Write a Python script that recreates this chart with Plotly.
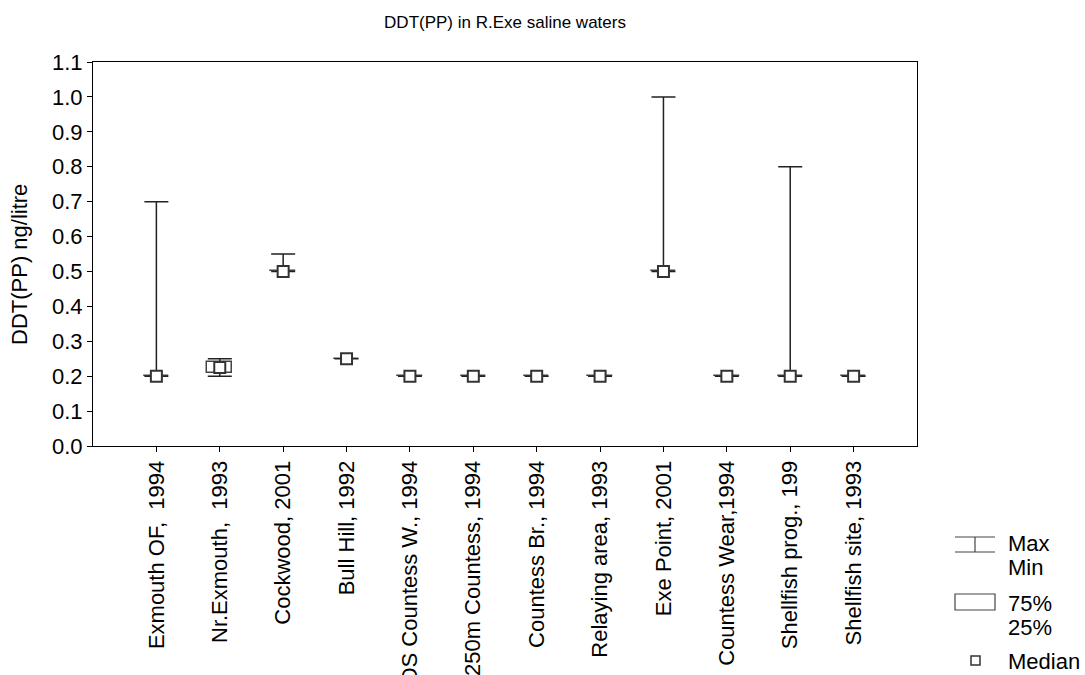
import plotly.graph_objects as go

# Sampling sites on the Exe estuary (saline waters)
sites = [
    "Exmouth OF,  1994",
    "Nr.Exmouth,  1993",
    "Cockwood, 2001",
    "Bull Hill, 1992",
    "DS Countess W., 1994",
    "250m Countess, 1994",
    "Countess Br., 1994",
    "Relaying area, 1993",
    "Exe Point, 2001",
    "Countess Wear,1994",
    "Shellfish prog., 199",
    "Shellfish site, 1993",
]

# DDT(PP) summary statistics, ng/litre
median = [0.20, 0.225, 0.50, 0.25, 0.20, 0.20, 0.20, 0.20, 0.50, 0.20, 0.20, 0.20]
q25 = [0.20, 0.21, 0.50, 0.25, 0.20, 0.20, 0.20, 0.20, 0.50, 0.20, 0.20, 0.20]
q75 = [0.20, 0.24, 0.50, 0.25, 0.20, 0.20, 0.20, 0.20, 0.50, 0.20, 0.20, 0.20]
vmin = [0.20, 0.20, 0.50, 0.25, 0.20, 0.20, 0.20, 0.20, 0.50, 0.20, 0.20, 0.20]
vmax = [0.70, 0.25, 0.55, 0.25, 0.20, 0.20, 0.20, 0.20, 1.00, 0.20, 0.80, 0.20]

y_ticks = [round(0.1 * i, 1) for i in range(12)]

FONT = "Liberation Sans, Arial, sans-serif"
INK = "#222222"
FS = 22

xpos = list(range(1, len(sites) + 1))

fig = go.Figure()

# 25%-75% boxes
fig.add_trace(go.Bar(
    x=xpos,
    base=q25,
    y=[b - a for a, b in zip(q25, q75)],
    width=0.4,
    marker=dict(color="white", line=dict(color="#444444", width=1.5)),
    showlegend=False,
    hoverinfo="skip",
))

# Min-max whiskers and median squares
fig.add_trace(go.Scatter(
    x=xpos,
    y=median,
    mode="markers",
    marker=dict(symbol="square", size=11, color="white",
                line=dict(color="#333333", width=2)),
    error_y=dict(
        type="data",
        symmetric=False,
        array=[mx - m for mx, m in zip(vmax, median)],
        arrayminus=[m - mn for m, mn in zip(median, vmin)],
        color=INK,
        thickness=1.5,
        width=12,
    ),
    showlegend=False,
))

# Plot-area geometry in pixels, used to place the legend glyphs
L, R, T, B = 93, 917, 62, 446


def px(x):
    return (x - L) / (R - L)


def py(y):
    return (B - y) / (B - T)


shapes = []
line = dict(color="#444444", width=1.2)
# Max/Min glyph
shapes.append(dict(type="line", xref="paper", yref="paper",
                   x0=px(955), x1=px(995), y0=py(537), y1=py(537), line=line))
shapes.append(dict(type="line", xref="paper", yref="paper",
                   x0=px(955), x1=px(995), y0=py(552), y1=py(552), line=line))
shapes.append(dict(type="line", xref="paper", yref="paper",
                   x0=px(975), x1=px(975), y0=py(537), y1=py(552), line=line))
# 75%/25% glyph
shapes.append(dict(type="rect", xref="paper", yref="paper",
                   x0=px(955), x1=px(995), y0=py(594), y1=py(610), line=line,
                   fillcolor="white"))
# Median glyph
shapes.append(dict(type="rect", xref="paper", yref="paper",
                   x0=px(971), x1=px(980), y0=py(656), y1=py(665),
                   line=dict(color="#333333", width=1.5), fillcolor="white"))

annotations = []
for text, ycen in [("Max", 543), ("Min", 567), ("75%", 603), ("25%", 627), ("Median", 661)]:
    annotations.append(dict(
        text=text, xref="paper", yref="paper", x=px(1006), y=py(ycen),
        xanchor="left", yanchor="middle", showarrow=False,
        font=dict(family=FONT, size=FS, color="black"),
    ))

# Y-axis title
annotations.append(dict(
    text="DDT(PP) ng/litre", xref="paper", yref="paper", x=px(19), y=py(265),
    xanchor="center", yanchor="middle", textangle=-90, showarrow=False,
    font=dict(family=FONT, size=FS, color="black"),
))

fig.update_layout(
    width=1085,
    height=675,
    paper_bgcolor="white",
    plot_bgcolor="white",
    margin=dict(l=L, r=1085 - R, t=T, b=675 - B, autoexpand=False),
    title=dict(text="DDT(PP) in R.Exe saline waters", x=(L + R) / 2 / 1085,
               xanchor="center", y=1 - 22 / 675, yanchor="middle",
               font=dict(family=FONT, size=17, color="black")),
    font=dict(family=FONT, color="black"),
    shapes=shapes,
    annotations=annotations,
    bargap=0,
)

fig.update_xaxes(
    range=[0, len(sites) + 1],
    tickmode="array",
    tickvals=xpos,
    ticktext=sites,
    tickangle=-90,
    ticks="outside",
    ticklen=5,
    tickcolor="black",
    tickfont=dict(family=FONT, size=FS, color="black"),
    showline=True,
    linecolor="black",
    linewidth=1,
    mirror=True,
    showgrid=False,
    zeroline=False,
    automargin=False,
)

fig.update_yaxes(
    range=[0, 1.1],
    tickmode="array",
    tickvals=y_ticks,
    ticktext=[f"{v:.1f}" for v in y_ticks],
    ticks="outside",
    ticklen=5,
    tickcolor="black",
    tickfont=dict(family=FONT, size=FS, color="black"),
    showline=True,
    linecolor="black",
    linewidth=1,
    mirror=True,
    showgrid=False,
    zeroline=False,
    automargin=False,
)

fig.write_html("out.html")
